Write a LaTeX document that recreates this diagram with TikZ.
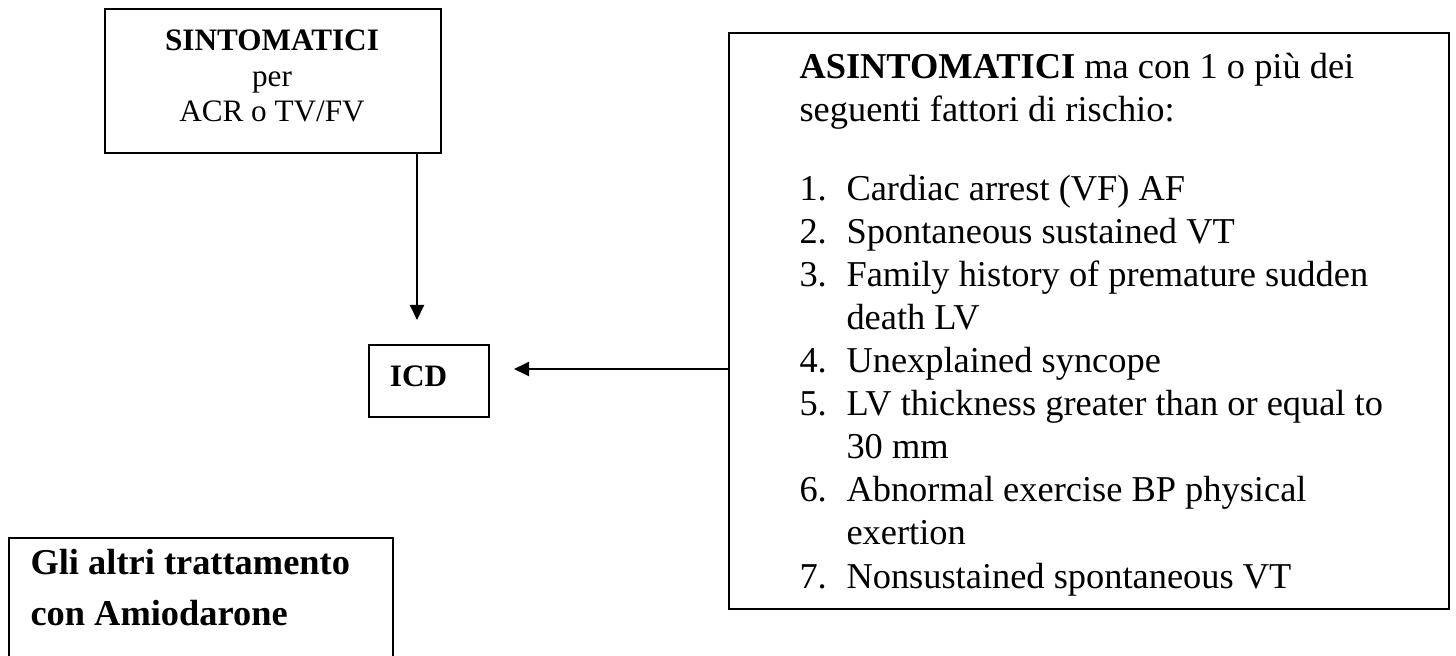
\documentclass[tikz,border=0pt]{standalone}
\usepackage{fontspec}
\setmainfont{Liberation Serif}
\usetikzlibrary{arrows.meta}

\newlength{\px}
\setlength{\px}{0.3846pt}
\newcommand{\listnum}[1]{\makebox[47\px][l]{#1.}}
\newcommand{\listgap}{\hspace*{47\px}}

\begin{document}
\begin{tikzpicture}[x=0.3846pt, y=-0.3846pt,
  box/.style={draw, line width=0.8pt, inner sep=0pt},
  txt/.style={inner sep=0pt, align=left},
  arr/.style={line width=0.8pt, -{Triangle[length=5.8pt, width=5.4pt]}}]
\useasboundingbox (0,0) rectangle (1456,655);
\clip (0,0) rectangle (1456,655);
% sintomatici
\node[box, minimum width=336\px, minimum height=144\px] (sint) at (273,81) {};
\node[txt, align=center, font=\fontsize{12}{13.6}\selectfont] (sinttxt) at (272,76) {\textbf{SINTOMATICI}\\per\\ACR o TV/FV};
% ICD
\node[box, minimum width=120\px, minimum height=72\px] (icd) at (429,381) {};
\node[txt, font=\fontsize{12}{14}\selectfont\bfseries] (icdtxt) at (418.5,376.7) {ICD};
% asintomatici
\node[box, minimum width=720\px, minimum height=576\px] (asint) at (1089,321) {};
\node[txt, anchor=north west, font=\fontsize{14}{16.58}\selectfont] (asinttxt) at (799,53) {%
\textbf{ASINTOMATICI} ma con 1 o più dei\\
seguenti fattori di rischio:\\[35\px]
\listnum{1}Cardiac arrest (VF) AF\\
\listnum{2}Spontaneous sustained VT\\
\listnum{3}Family history of premature sudden\\
\listgap death LV\\
\listnum{4}Unexplained syncope\\
\listnum{5}LV thickness greater than or equal to\\
\listgap 30 mm\\
\listnum{6}Abnormal exercise BP physical\\
\listgap exertion\\
\listnum{7}Nonsustained spontaneous VT};
% altri
\node[box, minimum width=384\px, minimum height=170\px] (altri) at (201,623) {};
\node[txt, anchor=north west, font=\fontsize{14}{19.6}\selectfont\bfseries] (altritxt) at (30,549) {Gli altri trattamento\\con Amiodarone};
% frecce
\coordinate (icdtop) at (417,320);
\coordinate (icdside) at (514,369);
\draw[arr] (sint.south -| icdtop) -- (icdtop);
\draw[arr] (asint.west |- icdside) -- (icdside);
\end{tikzpicture}
\end{document}
